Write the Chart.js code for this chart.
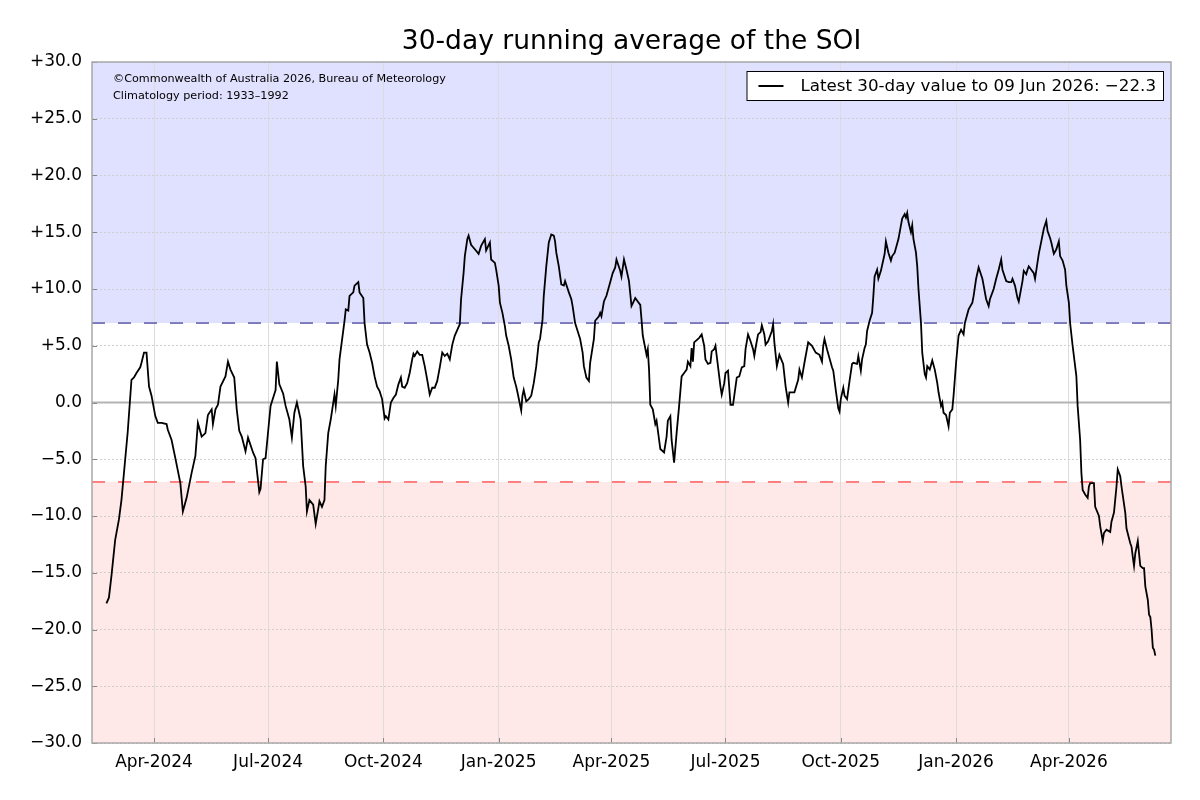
<!DOCTYPE html>
<html>
<head>
<meta charset="utf-8">
<title>30-day running average of the SOI</title>
<script src="https://cdn.jsdelivr.net/npm/chart.js@4.4.1/dist/chart.umd.min.js"></script>
<style>
  html, body { margin: 0; padding: 0; background: #fff; }
  #wrap { width: 1200px; height: 800px; }
</style>
</head>
<body>
<div id="wrap"><canvas id="soiChart"></canvas></div>
<script>
// days counted from 1 Apr 2024 (day 0)
const dayOffsets = [
  -38, -36, -34, -31, -28, -26, -23, -21, -18, -16, -14, -11, -10, -8, -6, -4, -2, 1, 3, 6,
  10, 11, 14, 17, 21, 23, 26, 30, 33, 35, 38, 41, 43, 46, 47, 49, 51, 53, 57, 59,
  61, 64, 66, 68, 70, 73, 75, 79, 81, 84, 85, 87, 89, 91, 93, 95, 97, 98, 100, 103,
  105, 108, 110, 112, 114, 117, 119, 121, 122, 124, 127, 129, 131, 132, 134, 136, 137, 139, 141, 144,
  145, 147, 148, 152, 153, 155, 156, 159, 160, 163, 164, 167, 168, 170, 172, 174, 176, 178, 180, 182,
  184, 185, 187, 189, 191, 193, 195, 197, 198, 200, 202, 204, 206, 207, 208, 210, 212, 214, 216, 218,
  220, 222, 224, 226, 228, 230, 232, 234, 236, 238, 240, 242, 244, 245, 247, 248, 250, 251, 253, 256,
  259, 261, 264, 265, 268, 269, 272, 273, 275, 276, 278, 280, 281, 283, 285, 287, 289, 290, 293, 294,
  295, 297, 299, 301, 303, 305, 307, 308, 310, 311, 313, 315, 317, 319, 320, 321, 323, 325, 327, 328,
  331, 333, 334, 336, 338, 340, 342, 343, 345, 347, 348, 351, 352, 355, 356, 357, 359, 361, 364, 366,
  368, 369, 372, 373, 375, 377, 379, 381, 384, 386, 388, 389, 390, 393, 394, 395, 396, 398, 400, 401,
  404, 407, 409, 410, 412, 413, 415, 417, 419, 421, 423, 425, 426, 428, 429, 430, 431, 435, 437, 439,
  440, 442, 444, 445, 447, 448, 451, 452, 453, 455, 456, 458, 460, 462, 465, 467, 469, 471, 472, 474,
  476, 478, 479, 480, 482, 484, 485, 487, 488, 490, 493, 494, 495, 497, 499, 502, 504, 506, 507, 511,
  514, 515, 517, 519, 522, 525, 528, 531, 533, 534, 535, 537, 541, 542, 544, 546, 547, 548, 550, 551,
  553, 555, 557, 558, 561, 562, 564, 565, 567, 568, 569, 571, 573, 574, 575, 577, 578, 580, 583, 584,
  586, 588, 589, 591, 594, 596, 597, 599, 600, 601, 602, 604, 605, 606, 608, 609, 610, 612, 613, 615,
  616, 617, 619, 621, 623, 625, 626, 628, 629, 630, 632, 634, 635, 637, 638, 640, 642, 644, 646, 647,
  650, 653, 654, 656, 658, 661, 664, 666, 667, 670, 672, 674, 676, 677, 680, 682, 684, 685, 687, 689,
  690, 693, 694, 696, 697, 698, 702, 703, 706, 708, 710, 712, 713, 715, 716, 718, 720, 722, 723, 725,
  727, 728, 730, 731, 733, 736, 737, 739, 740, 741, 743, 745, 746, 747, 750, 751, 754, 755, 757, 758,
  760, 763, 764, 766, 768, 769, 771, 772, 775, 776, 779, 780, 781, 782, 783, 785, 786, 787, 789, 790,
  791, 793, 794, 795, 796, 797, 798, 799
];

const soiValues = [
  -17.7, -17.2, -15.3, -12.1, -10.3, -8.6, -5.0, -2.6, 2.0, 2.2, 2.6, 3.1, 3.5, 4.4, 4.4, 1.4, 0.6, -1.2, -1.8, -1.8,
  -1.9, -2.4, -3.3, -4.9, -7.1, -9.6, -8.4, -6.2, -4.7, -1.8, -3.0, -2.7, -1.1, -0.6, -1.9, -0.6, -0.2, 1.4, 2.3, 3.6,
  2.9, 2.2, -0.6, -2.5, -3.0, -4.3, -3.1, -4.4, -4.9, -7.9, -7.6, -5.0, -4.9, -2.6, -0.3, 0.4, 1.1, 3.6, 1.6, 0.8,
  -0.3, -1.5, -3.1, -0.9, 0.0, -1.5, -5.6, -7.4, -9.6, -8.6, -9.0, -10.7, -9.4, -8.7, -9.2, -8.6, -5.6, -2.7, -1.5, 0.7,
  -0.3, 2.0, 3.8, 7.2, 8.2, 8.1, 9.4, 9.7, 10.3, 10.6, 9.7, 9.2, 7.0, 5.1, 4.4, 3.5, 2.3, 1.4, 1.0, 0.3,
  -1.4, -1.2, -1.5, 0.0, 0.4, 0.7, 1.6, 2.2, 1.4, 1.3, 1.7, 2.6, 3.8, 4.3, 4.1, 4.5, 4.2, 4.2, 3.2, 2.0,
  0.7, 1.3, 1.3, 1.9, 3.1, 4.4, 4.1, 4.3, 3.8, 5.1, 5.9, 6.4, 6.9, 9.1, 11.4, 12.9, 14.4, 14.7, 13.9, 13.5,
  13.1, 13.8, 14.4, 13.4, 14.1, 12.6, 12.3, 11.7, 10.3, 8.8, 7.9, 6.7, 5.9, 5.0, 3.8, 2.2, 1.4, 0.9, -0.7, 0.6,
  1.1, 0.1, 0.3, 0.6, 1.7, 3.2, 5.3, 5.6, 7.3, 9.4, 12.0, 14.1, 14.8, 14.7, 14.2, 13.2, 12.0, 10.4, 10.3, 10.7,
  9.7, 9.1, 8.5, 7.0, 6.3, 5.6, 4.4, 3.2, 2.2, 1.9, 3.5, 5.6, 7.2, 7.6, 7.9, 7.6, 8.9, 9.4, 10.6, 11.4,
  11.9, 12.6, 11.6, 11.1, 12.6, 11.7, 10.7, 8.5, 9.2, 8.9, 8.6, 7.3, 5.9, 4.2, 4.7, 2.9, -0.2, -0.6, -1.9, -1.6,
  -4.1, -4.4, -3.0, -1.6, -1.2, -3.3, -5.3, -2.7, -0.3, 2.3, 2.6, 2.9, 3.6, 3.2, 4.8, 3.6, 5.3, 5.7, 6.0, 5.0,
  3.8, 3.4, 3.5, 4.5, 4.7, 5.0, 2.3, 1.4, 0.7, 1.7, 2.6, 2.8, -0.2, -0.2, 2.2, 2.3, 3.1, 3.2, 4.7, 6.0,
  5.4, 4.7, 4.1, 4.8, 6.0, 6.2, 6.8, 6.0, 5.1, 5.4, 6.3, 6.9, 5.3, 3.2, 4.2, 3.4, 1.4, 0.0, 0.9, 0.9,
  2.0, 2.9, 2.2, 3.5, 5.3, 5.0, 4.4, 4.2, 3.6, 5.0, 5.6, 4.7, 3.1, 2.8, 1.1, -0.5, -0.8, 0.3, 1.3, 0.6,
  0.3, 1.9, 3.4, 3.5, 3.4, 4.1, 2.8, 3.8, 4.8, 5.1, 6.3, 7.2, 7.9, 9.4, 11.1, 11.7, 10.9, 11.6, 13.1, 14.2,
  13.2, 12.5, 12.9, 13.2, 14.4, 15.6, 16.2, 16.6, 16.3, 16.7, 15.9, 15.0, 15.6, 14.4, 13.2, 12.0, 10.0, 7.0, 4.4, 2.5,
  2.2, 3.2, 2.9, 3.7, 2.9, 1.7, 0.9, -0.3, 0.0, -0.9, -1.1, -2.1, -0.9, -0.6, 0.6, 3.5, 5.9, 6.4, 6.0, 7.0,
  8.2, 8.8, 9.4, 10.9, 11.9, 10.9, 9.1, 8.5, 9.1, 10.0, 10.9, 11.7, 12.6, 11.7, 10.7, 10.6, 10.6, 10.9, 10.3, 9.2,
  8.9, 10.7, 11.6, 11.3, 11.7, 12.0, 11.4, 10.9, 13.1, 14.2, 15.3, 16.0, 15.1, 14.5, 14.1, 13.1, 13.5, 14.2, 12.9, 12.5,
  11.7, 10.3, 8.8, 7.0, 5.0, 2.3, -0.3, -3.3, -6.2, -7.7, -8.1, -8.4, -7.4, -7.1, -7.1, -9.2, -10.0, -10.9, -12.2, -11.5,
  -11.2, -11.4, -10.5, -9.7, -7.4, -5.9, -6.5, -7.4, -9.7, -11.1, -12.4, -12.7, -13.6, -14.4, -13.3, -12.2, -13.3, -14.4, -14.6, -14.6,
  -16.2, -17.4, -18.7, -18.9, -20.0, -21.6, -21.8, -22.3
];

const tickDays = [0, 91, 183, 275, 365, 456, 548, 640, 730];
const tickLabels = ["Apr-2024", "Jul-2024", "Oct-2024", "Jan-2025", "Apr-2025", "Jul-2025", "Oct-2025", "Jan-2026", "Apr-2026"];

const xMin = -49.5;
const xMax = 811.5;
const upperThreshold = 7;
const lowerThreshold = -7;
const titleText = "30-day running average of the SOI";
const legendText = "Latest 30-day value to 09 Jun 2026: \u221222.3";
const noteLines = ["\u00a9Commonwealth of Australia 2026, Bureau of Meteorology", "Climatology period: 1933\u20131992"];

const FONT = "'DejaVu Sans', 'Liberation Sans', sans-serif";
Chart.defaults.font.family = FONT;
Chart.defaults.color = "#000";

const points = dayOffsets.map((d, i) => ({ x: d, y: soiValues[i] }));

// shaded bands, zero line, frame, notes and legend, drawn with the chart's own scales
const soiDecor = {
  id: "soiDecor",
  beforeDraw(chart) {
    const { ctx, chartArea: a, scales: { y } } = chart;
    const yUp = y.getPixelForValue(upperThreshold);
    const yLo = y.getPixelForValue(lowerThreshold);
    ctx.save();
    ctx.fillStyle = "rgb(224,224,255)";
    ctx.fillRect(a.left, a.top, a.right - a.left, yUp - a.top);
    ctx.fillStyle = "rgb(255,232,232)";
    ctx.fillRect(a.left, yLo, a.right - a.left, a.bottom - yLo);
    ctx.restore();
  },
  beforeDatasetsDraw(chart) {
    const { ctx, chartArea: a, scales: { y } } = chart;
    const y0 = y.getPixelForValue(0);
    ctx.save();
    ctx.strokeStyle = "#b4b4b4";
    ctx.lineWidth = 1.8;
    ctx.beginPath();
    ctx.moveTo(a.left, y0);
    ctx.lineTo(a.right, y0);
    ctx.stroke();
    ctx.restore();
  },
  afterDraw(chart) {
    const { ctx, chartArea: a, scales: { x, y } } = chart;
    ctx.save();
    // inward tick marks
    ctx.strokeStyle = "#888";
    ctx.lineWidth = 1;
    ctx.beginPath();
    tickDays.forEach(d => {
      const px = Math.round(x.getPixelForValue(d)) + 0.5;
      ctx.moveTo(px, a.bottom);
      ctx.lineTo(px, a.bottom - 5);
    });
    y.ticks.forEach(t => {
      const py = Math.round(y.getPixelForValue(t.value)) + 0.5;
      ctx.moveTo(a.left, py);
      ctx.lineTo(a.left + 5, py);
    });
    ctx.stroke();
    // frame
    ctx.strokeStyle = "#a8a8a8";
    ctx.lineWidth = 1.5;
    ctx.strokeRect(a.left, a.top, a.right - a.left, a.bottom - a.top);

    // title, centred over the plot
    ctx.fillStyle = "#000";
    ctx.textBaseline = "middle";
    ctx.textAlign = "center";
    ctx.font = "26.5px " + FONT;
    ctx.fillText(titleText, (a.left + a.right) / 2, 42);

    // notes
    ctx.textAlign = "left";
    ctx.font = "11.2px " + FONT;
    ctx.fillText(noteLines[0], a.left + 21, a.top + 17);
    ctx.fillText(noteLines[1], a.left + 21, a.top + 34);

    // legend
    ctx.font = "16.7px " + FONT;
    const tw = ctx.measureText(legendText).width;
    const bw = tw + 61, bh = 29;
    const bx = a.right - 8 - bw;
    const by = a.top + 9;
    ctx.fillStyle = "#fff";
    ctx.fillRect(bx, by, bw, bh);
    ctx.strokeStyle = "#000";
    ctx.lineWidth = 1;
    ctx.strokeRect(bx + 0.5, by + 0.5, bw, bh);
    ctx.lineWidth = 2;
    ctx.beginPath();
    ctx.moveTo(bx + 12, by + bh / 2 + 0.5);
    ctx.lineTo(bx + 37, by + bh / 2 + 0.5);
    ctx.stroke();
    ctx.fillStyle = "#000";
    ctx.fillText(legendText, bx + 54, by + bh / 2 + 1);
    ctx.restore();
  }
};

new Chart(document.getElementById("soiChart"), {
  type: "line",
  data: {
    datasets: [
      {
        label: "SOI",
        data: points,
        borderColor: "#000",
        borderWidth: 1.8,
        pointRadius: 0,
        tension: 0,
        fill: false
      },
      {
        label: "upper",
        data: [{ x: xMin, y: upperThreshold }, { x: xMax, y: upperThreshold }],
        borderColor: "#5a5aa8",
        borderWidth: 1.5,
        borderDash: [13, 13],
        pointRadius: 0
      },
      {
        label: "lower",
        data: [{ x: xMin, y: lowerThreshold }, { x: xMax, y: lowerThreshold }],
        borderColor: "#ff5c5c",
        borderWidth: 1.5,
        borderDash: [13, 13],
        pointRadius: 0
      }
    ]
  },
  options: {
    responsive: true,
    maintainAspectRatio: false,
    animation: false,
    layout: { padding: { left: 0, right: 29, top: 62, bottom: 0 } },
    plugins: {
      legend: { display: false },
      tooltip: { enabled: false },
      title: { display: false }
    },
    scales: {
      x: {
        type: "linear",
        min: xMin,
        max: xMax,
        afterBuildTicks(scale) {
          scale.ticks = tickDays.map(v => ({ value: v }));
        },
        afterFit(scale) { scale.height = 57; },
        ticks: {
          autoSkip: false,
          maxRotation: 0,
          padding: 9,
          font: { size: 17 },
          color: "#000",
          callback: (v) => {
            const i = tickDays.indexOf(v);
            return i >= 0 ? tickLabels[i] : "";
          }
        },
        grid: { color: "#dcdcdc", lineWidth: 1, drawTicks: false },
        border: { display: false }
      },
      y: {
        min: -30,
        max: 30,
        afterFit(scale) { scale.width = 92; },
        ticks: {
          stepSize: 5,
          padding: 10,
          font: { size: 17 },
          color: "#000",
          callback: (v) => v > 0 ? "+" + v.toFixed(1) : (v < 0 ? "\u2212" + Math.abs(v).toFixed(1) : "0.0")
        },
        grid: { color: "#cfcfcf", lineWidth: 1, drawTicks: false },
        border: { display: false, dash: [2, 2] }
      }
    }
  },
  plugins: [soiDecor]
});
</script>
</body>
</html>
